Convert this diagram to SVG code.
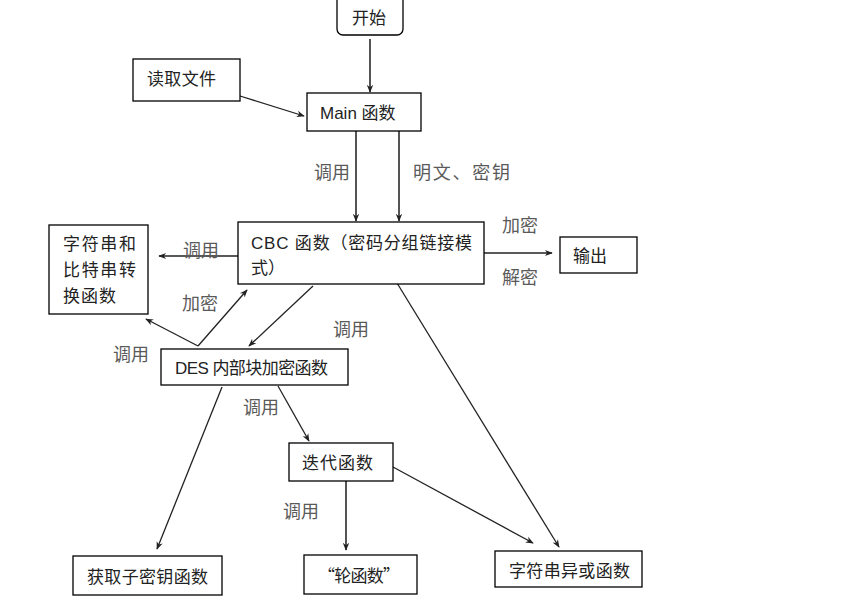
<svg xmlns="http://www.w3.org/2000/svg" width="851" height="608" viewBox="0 0 851 608">
<style>
.box{fill:#fff;stroke:#000;stroke-width:1.3}
.t{font-family:"Noto Sans CJK SC","Liberation Sans",sans-serif;font-size:17px;fill:#222}
.lat{font-family:"Liberation Sans","Noto Sans CJK SC",sans-serif}
.lbl{font-family:"Noto Sans CJK SC","Liberation Sans",sans-serif;font-size:18px;fill:#5a5a5a}
.c{fill:none;stroke:#222;stroke-width:1.3}
.v{fill:none;stroke:#555;stroke-width:2}
</style>
<defs>
<marker id="ah" viewBox="0 0 10 10" refX="9" refY="5" markerWidth="8" markerHeight="8" markerUnits="userSpaceOnUse" orient="auto">
<path d="M0,1 L10,5 L0,9 L3,5 Z" fill="#222"/>
</marker>
</defs>
<rect width="851" height="608" fill="#fff"/>
<g id="connectors">
<line class="v" x1="370" y1="39" x2="370" y2="92" marker-end="url(#ah)"/>
<line class="c" x1="240" y1="96" x2="304" y2="116" marker-end="url(#ah)"/>
<line class="v" x1="356" y1="131" x2="356" y2="221" marker-end="url(#ah)"/>
<line class="v" x1="399" y1="131" x2="399" y2="221" marker-end="url(#ah)"/>
<line class="c" x1="484" y1="253" x2="552" y2="253" marker-end="url(#ah)"/>
<line class="c" x1="238" y1="256" x2="159" y2="256" marker-end="url(#ah)"/>
<line class="c" x1="198" y1="346" x2="146" y2="319" marker-end="url(#ah)"/>
<line class="c" x1="198" y1="346" x2="247" y2="290" marker-end="url(#ah)"/>
<line class="c" x1="313" y1="286" x2="249" y2="346" marker-end="url(#ah)"/>
<line class="c" x1="278" y1="386" x2="309" y2="441" marker-end="url(#ah)"/>
<line class="c" x1="222" y1="387" x2="157" y2="549" marker-end="url(#ah)"/>
<line class="v" x1="346" y1="481" x2="346" y2="550" marker-end="url(#ah)"/>
<line class="c" x1="393" y1="467" x2="533" y2="543" marker-end="url(#ah)"/>
<line class="c" x1="397" y1="283" x2="559" y2="547" marker-end="url(#ah)"/>
</g>
<g id="labels">
<text class="lbl" x="314" y="179">调用</text>
<text class="lbl" x="413" y="179" textLength="97" lengthAdjust="spacing">明文、密钥</text>
<text class="lbl" x="502" y="232">加密</text>
<text class="lbl" x="502" y="284">解密</text>
<text class="lbl" x="183" y="257">调用</text>
<text class="lbl" x="182" y="310">加密</text>
<text class="lbl" x="113" y="361">调用</text>
<text class="lbl" x="333" y="336">调用</text>
<text class="lbl" x="243" y="414">调用</text>
<text class="lbl" x="283" y="518">调用</text>
</g>
<g id="start"><rect class="box" x="337" y="-10" width="66" height="45" rx="6"/><text class="t" x="352" y="24">开始</text></g>
<g id="readfile"><rect class="box" x="133" y="59" width="107" height="42"/><text class="t" x="147" y="85" textLength="69" lengthAdjust="spacing">读取文件</text></g>
<g id="main"><rect class="box" x="307" y="93" width="114" height="38"/><text class="t" x="320" y="119"><tspan class="lat">Main </tspan>函数</text></g>
<g id="cbc"><rect class="box" x="238" y="222" width="246" height="62"/><text class="t" x="251" y="249" textLength="221" lengthAdjust="spacing"><tspan class="lat">CBC </tspan>函数（密码分组链接模</text><text class="t" x="251" y="274">式）</text></g>
<g id="output"><rect class="box" x="560" y="237" width="77" height="36"/><text class="t" x="573" y="262">输出</text></g>
<g id="strbit"><rect class="box" x="49" y="225" width="99" height="89"/><text class="t" x="63" y="250" textLength="73" lengthAdjust="spacing">字符串和</text><text class="t" x="63" y="276" textLength="73" lengthAdjust="spacing">比特串转</text><text class="t" x="63" y="302" textLength="53" lengthAdjust="spacing">换函数</text></g>
<g id="des"><rect class="box" x="161" y="349" width="187" height="36"/><text class="t" x="175" y="374" textLength="153" lengthAdjust="spacing"><tspan class="lat">DES </tspan>内部块加密函数</text></g>
<g id="iter"><rect class="box" x="289" y="443" width="104" height="38"/><text class="t" x="302" y="469" textLength="71" lengthAdjust="spacing">迭代函数</text></g>
<g id="subkey"><rect class="box" x="73" y="556" width="149" height="39"/><text class="t" x="87" y="583" textLength="121" lengthAdjust="spacing">获取子密钥函数</text></g>
<g id="round"><rect class="box" x="304" y="555" width="113" height="39"/><text class="t" x="318" y="582" textLength="82" lengthAdjust="spacing">“轮函数”</text></g>
<g id="xor"><rect class="box" x="495" y="551" width="147" height="36"/><text class="t" x="509" y="577" textLength="121" lengthAdjust="spacing">字符串异或函数</text></g>
</svg>
